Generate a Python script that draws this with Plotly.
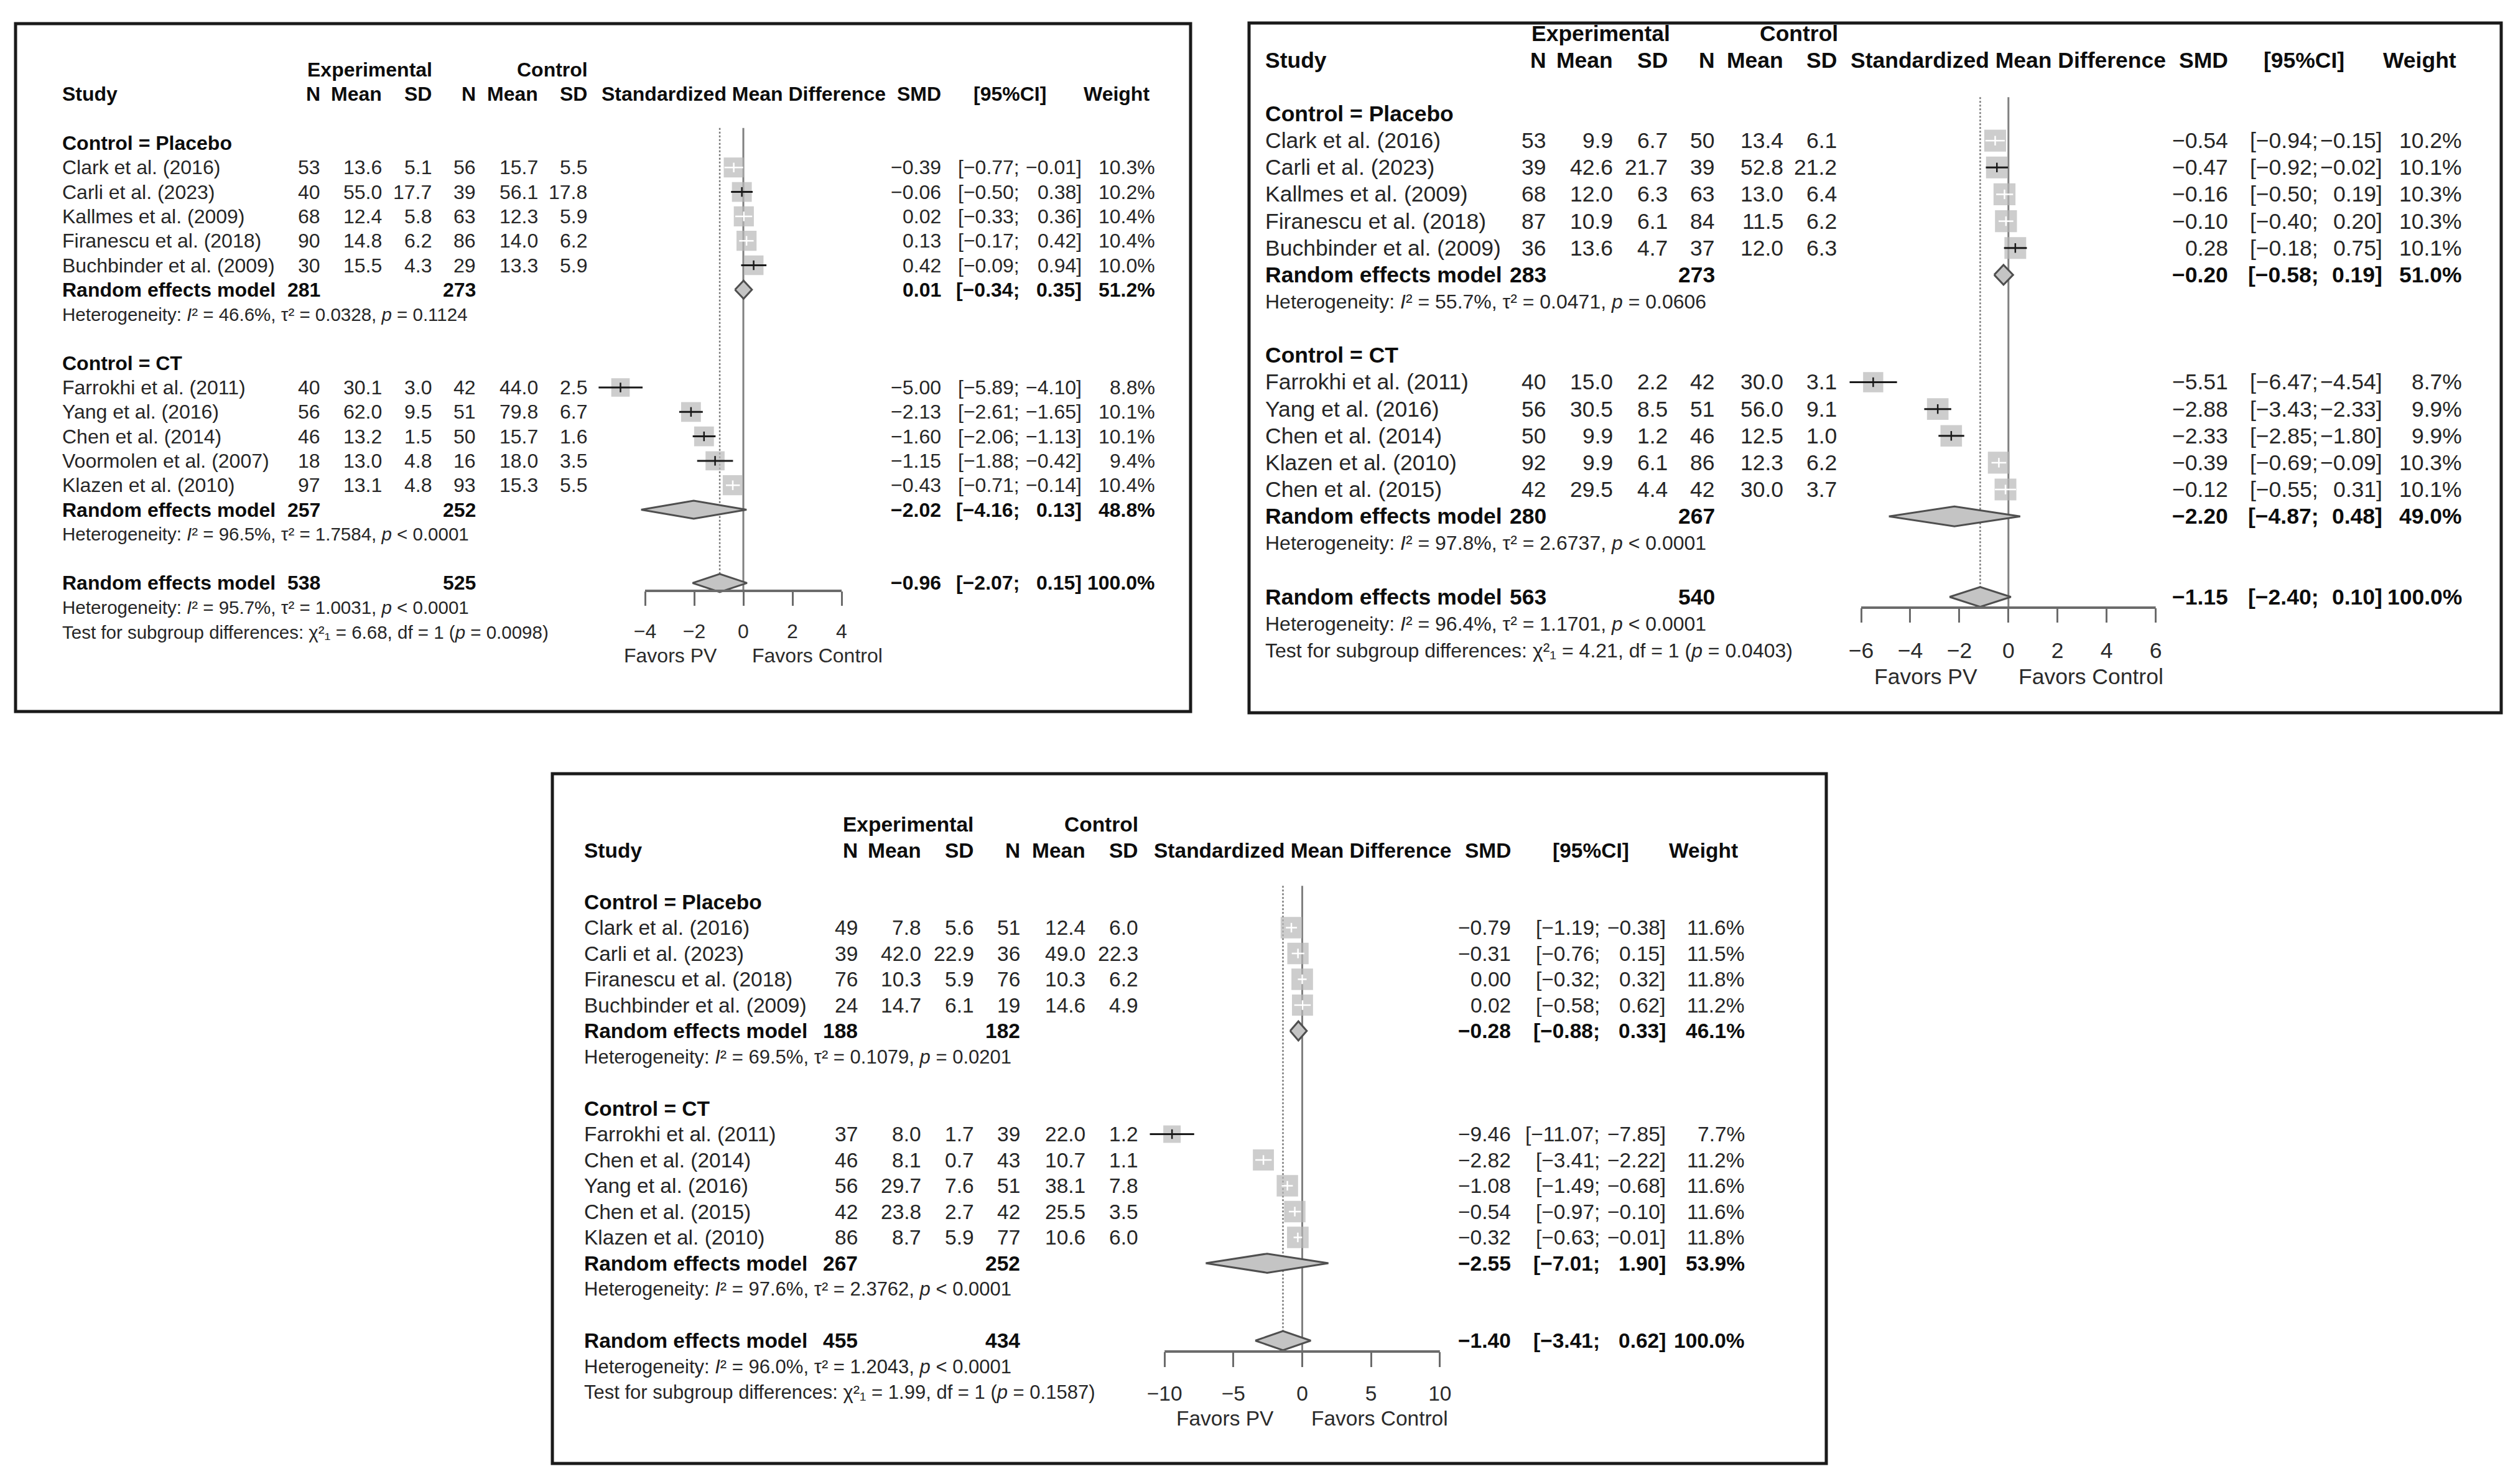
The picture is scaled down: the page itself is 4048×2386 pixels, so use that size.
import math
import plotly.graph_objects as go

# ======================= DATA =======================
# ---- Panel 1 (top left) ----
P1_STUDY = ["Clark et al. (2016)", "Carli et al. (2023)", "Kallmes et al. (2009)",
            "Firanescu et al. (2018)", "Buchbinder et al. (2009)",
            "Farrokhi et al. (2011)", "Yang et al. (2016)", "Chen et al. (2014)",
            "Voormolen et al. (2007)", "Klazen et al. (2010)"]
P1_GROUP = ["Placebo", "Placebo", "Placebo", "Placebo", "Placebo",
            "CT", "CT", "CT", "CT", "CT"]
P1_EXP_N = [53, 40, 68, 90, 30, 40, 56, 46, 18, 97]
P1_EXP_MEAN = [13.6, 55.0, 12.4, 14.8, 15.5, 30.1, 62.0, 13.2, 13.0, 13.1]
P1_EXP_SD = [5.1, 17.7, 5.8, 6.2, 4.3, 3.0, 9.5, 1.5, 4.8, 4.8]
P1_CTL_N = [56, 39, 63, 86, 29, 42, 51, 50, 16, 93]
P1_CTL_MEAN = [15.7, 56.1, 12.3, 14.0, 13.3, 44.0, 79.8, 15.7, 18.0, 15.3]
P1_CTL_SD = [5.5, 17.8, 5.9, 6.2, 5.9, 2.5, 6.7, 1.6, 3.5, 5.5]
P1_SMD = [-0.39, -0.06, 0.02, 0.13, 0.42, -5.00, -2.13, -1.60, -1.15, -0.43]
P1_LOWER = [-0.77, -0.50, -0.33, -0.17, -0.09, -5.89, -2.61, -2.06, -1.88, -0.71]
P1_UPPER = [-0.01, 0.38, 0.36, 0.42, 0.94, -4.10, -1.65, -1.13, -0.42, -0.14]
P1_WEIGHT = [10.3, 10.2, 10.4, 10.4, 10.0, 8.8, 10.1, 10.1, 9.4, 10.4]
P1_SUB_LABEL = ["Placebo", "CT"]
P1_SUB_EXP_N = [281, 257]
P1_SUB_CTL_N = [273, 252]
P1_SUB_SMD = [0.01, -2.02]
P1_SUB_LOWER = [-0.34, -4.16]
P1_SUB_UPPER = [0.35, 0.13]
P1_SUB_WEIGHT = [51.2, 48.8]
P1_SUB_I2 = [46.6, 96.5]
P1_SUB_TAU2 = [0.0328, 1.7584]
P1_SUB_P = ["= 0.1124", "< 0.0001"]
P1_ALL = [538, 525, -0.96, -2.07, 0.15, 100.0]   # N exp, N ctl, SMD, lower, upper, weight
P1_ALL_HET = [95.7, 1.0031, "< 0.0001"]
P1_TEST = [6.68, 1, 0.0098]
P1_TICKS = [-4, -2, 0, 2, 4]

# ---- Panel 2 (top right) ----
P2_STUDY = ["Clark et al. (2016)", "Carli et al. (2023)", "Kallmes et al. (2009)",
            "Firanescu et al. (2018)", "Buchbinder et al. (2009)",
            "Farrokhi et al. (2011)", "Yang et al. (2016)", "Chen et al. (2014)",
            "Klazen et al. (2010)", "Chen et al. (2015)"]
P2_GROUP = ["Placebo", "Placebo", "Placebo", "Placebo", "Placebo",
            "CT", "CT", "CT", "CT", "CT"]
P2_EXP_N = [53, 39, 68, 87, 36, 40, 56, 50, 92, 42]
P2_EXP_MEAN = [9.9, 42.6, 12.0, 10.9, 13.6, 15.0, 30.5, 9.9, 9.9, 29.5]
P2_EXP_SD = [6.7, 21.7, 6.3, 6.1, 4.7, 2.2, 8.5, 1.2, 6.1, 4.4]
P2_CTL_N = [50, 39, 63, 84, 37, 42, 51, 46, 86, 42]
P2_CTL_MEAN = [13.4, 52.8, 13.0, 11.5, 12.0, 30.0, 56.0, 12.5, 12.3, 30.0]
P2_CTL_SD = [6.1, 21.2, 6.4, 6.2, 6.3, 3.1, 9.1, 1.0, 6.2, 3.7]
P2_SMD = [-0.54, -0.47, -0.16, -0.10, 0.28, -5.51, -2.88, -2.33, -0.39, -0.12]
P2_LOWER = [-0.94, -0.92, -0.50, -0.40, -0.18, -6.47, -3.43, -2.85, -0.69, -0.55]
P2_UPPER = [-0.15, -0.02, 0.19, 0.20, 0.75, -4.54, -2.33, -1.80, -0.09, 0.31]
P2_WEIGHT = [10.2, 10.1, 10.3, 10.3, 10.1, 8.7, 9.9, 9.9, 10.3, 10.1]
P2_SUB_LABEL = ["Placebo", "CT"]
P2_SUB_EXP_N = [283, 280]
P2_SUB_CTL_N = [273, 267]
P2_SUB_SMD = [-0.20, -2.20]
P2_SUB_LOWER = [-0.58, -4.87]
P2_SUB_UPPER = [0.19, 0.48]
P2_SUB_WEIGHT = [51.0, 49.0]
P2_SUB_I2 = [55.7, 97.8]
P2_SUB_TAU2 = [0.0471, 2.6737]
P2_SUB_P = ["= 0.0606", "< 0.0001"]
P2_ALL = [563, 540, -1.15, -2.40, 0.10, 100.0]
P2_ALL_HET = [96.4, 1.1701, "< 0.0001"]
P2_TEST = [4.21, 1, 0.0403]
P2_TICKS = [-6, -4, -2, 0, 2, 4, 6]

# ---- Panel 3 (bottom) ----
P3_STUDY = ["Clark et al. (2016)", "Carli et al. (2023)", "Firanescu et al. (2018)",
            "Buchbinder et al. (2009)",
            "Farrokhi et al. (2011)", "Chen et al. (2014)", "Yang et al. (2016)",
            "Chen et al. (2015)", "Klazen et al. (2010)"]
P3_GROUP = ["Placebo", "Placebo", "Placebo", "Placebo",
            "CT", "CT", "CT", "CT", "CT"]
P3_EXP_N = [49, 39, 76, 24, 37, 46, 56, 42, 86]
P3_EXP_MEAN = [7.8, 42.0, 10.3, 14.7, 8.0, 8.1, 29.7, 23.8, 8.7]
P3_EXP_SD = [5.6, 22.9, 5.9, 6.1, 1.7, 0.7, 7.6, 2.7, 5.9]
P3_CTL_N = [51, 36, 76, 19, 39, 43, 51, 42, 77]
P3_CTL_MEAN = [12.4, 49.0, 10.3, 14.6, 22.0, 10.7, 38.1, 25.5, 10.6]
P3_CTL_SD = [6.0, 22.3, 6.2, 4.9, 1.2, 1.1, 7.8, 3.5, 6.0]
P3_SMD = [-0.79, -0.31, 0.00, 0.02, -9.46, -2.82, -1.08, -0.54, -0.32]
P3_LOWER = [-1.19, -0.76, -0.32, -0.58, -11.07, -3.41, -1.49, -0.97, -0.63]
P3_UPPER = [-0.38, 0.15, 0.32, 0.62, -7.85, -2.22, -0.68, -0.10, -0.01]
P3_WEIGHT = [11.6, 11.5, 11.8, 11.2, 7.7, 11.2, 11.6, 11.6, 11.8]
P3_SUB_LABEL = ["Placebo", "CT"]
P3_SUB_EXP_N = [188, 267]
P3_SUB_CTL_N = [182, 252]
P3_SUB_SMD = [-0.28, -2.55]
P3_SUB_LOWER = [-0.88, -7.01]
P3_SUB_UPPER = [0.33, 1.90]
P3_SUB_WEIGHT = [46.1, 53.9]
P3_SUB_I2 = [69.5, 97.6]
P3_SUB_TAU2 = [0.1079, 2.3762]
P3_SUB_P = ["= 0.0201", "< 0.0001"]
P3_ALL = [455, 434, -1.40, -3.41, 0.62, 100.0]
P3_ALL_HET = [96.0, 1.2043, "< 0.0001"]
P3_TEST = [1.99, 1, 0.1587]
P3_TICKS = [-10, -5, 0, 5, 10]


def panel(study, group, en, em, es, cn, cm, cs, smd, lo, hi, w,
          slab, sne, snc, ssmd, slo, shi, sw, si2, stau, sp, alls, allhet, test, ticks):
    return dict(study=study, group=group, en=en, em=em, es=es, cn=cn, cm=cm, cs=cs,
                smd=smd, lo=lo, hi=hi, w=w, slab=slab, sne=sne, snc=snc, ssmd=ssmd,
                slo=slo, shi=shi, sw=sw, si2=si2, stau=stau, sp=sp, alls=alls,
                allhet=allhet, test=test, ticks=ticks)


PANEL_DATA = [
    panel(P1_STUDY, P1_GROUP, P1_EXP_N, P1_EXP_MEAN, P1_EXP_SD, P1_CTL_N, P1_CTL_MEAN, P1_CTL_SD,
          P1_SMD, P1_LOWER, P1_UPPER, P1_WEIGHT, P1_SUB_LABEL, P1_SUB_EXP_N, P1_SUB_CTL_N,
          P1_SUB_SMD, P1_SUB_LOWER, P1_SUB_UPPER, P1_SUB_WEIGHT, P1_SUB_I2, P1_SUB_TAU2, P1_SUB_P,
          P1_ALL, P1_ALL_HET, P1_TEST, P1_TICKS),
    panel(P2_STUDY, P2_GROUP, P2_EXP_N, P2_EXP_MEAN, P2_EXP_SD, P2_CTL_N, P2_CTL_MEAN, P2_CTL_SD,
          P2_SMD, P2_LOWER, P2_UPPER, P2_WEIGHT, P2_SUB_LABEL, P2_SUB_EXP_N, P2_SUB_CTL_N,
          P2_SUB_SMD, P2_SUB_LOWER, P2_SUB_UPPER, P2_SUB_WEIGHT, P2_SUB_I2, P2_SUB_TAU2, P2_SUB_P,
          P2_ALL, P2_ALL_HET, P2_TEST, P2_TICKS),
    panel(P3_STUDY, P3_GROUP, P3_EXP_N, P3_EXP_MEAN, P3_EXP_SD, P3_CTL_N, P3_CTL_MEAN, P3_CTL_SD,
          P3_SMD, P3_LOWER, P3_UPPER, P3_WEIGHT, P3_SUB_LABEL, P3_SUB_EXP_N, P3_SUB_CTL_N,
          P3_SUB_SMD, P3_SUB_LOWER, P3_SUB_UPPER, P3_SUB_WEIGHT, P3_SUB_I2, P3_SUB_TAU2, P3_SUB_P,
          P3_ALL, P3_ALL_HET, P3_TEST, P3_TICKS),
]

# ======================= LAYOUT / STYLE =======================
W, H = 4048, 2386
FONT = "Liberation Sans, Arial, Helvetica, sans-serif"
TXT = "#262626"
BLK = "#0d0d0d"
AXC = "#6b6b6b"
SQ_COLOR = "#B8B8B8"
DIA_FILL = "#C4C4C4"
DIA_LINE = "#4f4f4f"

LAYOUTS = [
    dict(box=(25, 38, 1914, 1144), row0=230.0, rowh=39.3, fs=32, fs_het=29.5,
         study_x=98, cols=(517, 616, 696, 767, 867, 946), exp_c=594, ctl_c=888,
         smd_x=1515, semi_x=1641, brk_x=1741, w_x=1859, ci_hdr=1623, w_hdr=1795,
         zero_px=1195.0, ppu=39.5, dom=(945, 1445), axis_px=950, fav_px=1054,
         fav_pv=1078, fav_ctl=1314, sq=10.0, ticklen=23),
    dict(box=(2008, 37, 4021, 1146), row0=183.0, rowh=43.15, fs=35.5, fs_het=32,
         study_x=2032, cols=(2488, 2595, 2683, 2759, 2869, 2955), exp_c=2573, ctl_c=2892,
         smd_x=3584, semi_x=3729, brk_x=3832, w_x=3960, ci_hdr=3704, w_hdr=3890,
         zero_px=3228.8, ppu=39.46, dom=(2960, 3500), axis_px=977, fav_px=1088,
         fav_pv=3096, fav_ctl=3361, sq=11.0, ticklen=23),
    dict(box=(888, 1244, 2936, 2353), row0=1450.0, rowh=41.5, fs=33.5, fs_het=31,
         study_x=937, cols=(1381, 1483, 1568, 1642, 1747, 1832), exp_c=1460, ctl_c=1770,
         smd_x=2431, semi_x=2574, brk_x=2680, w_x=2807, ci_hdr=2557, w_hdr=2738,
         zero_px=2093.5, ppu=22.13, dom=(1840, 2340), axis_px=2173, fav_px=2280,
         fav_pv=1969, fav_ctl=2218, sq=10.1, ticklen=24),
]


def mfmt(v, d):
    return f"{v:.{d}f}".replace("-", "\u2212")


def X(px):
    return px / W


def Y(py):
    return 1 - py / H


fig = go.Figure()
annotations = []
shapes = []
axes = {}

for pi, (D, L) in enumerate(zip(PANEL_DATA, LAYOUTS), start=1):
    sfx = "" if pi == 1 else str(pi)
    xa, ya = "x" + sfx, "y" + sfx
    bx0, by0, bx1, by1 = L["box"]
    row0, rowh = L["row0"], L["rowh"]
    zero, ppu = L["zero_px"], L["ppu"]
    d0, d1 = L["dom"]
    fs, fsh = L["fs"], L["fs_het"]

    def row_of(py):
        return (py - row0) / rowh

    axes["xaxis" + sfx] = dict(
        domain=[X(d0), X(d1)], range=[(d0 - zero) / ppu, (d1 - zero) / ppu],
        anchor="free", position=Y(L["axis_px"]),
        tickmode="array", tickvals=D["ticks"], ticktext=[mfmt(t, 0) for t in D["ticks"]],
        ticks="outside", ticklen=L["ticklen"], tickwidth=3, tickcolor=AXC,
        showline=False, showgrid=False, zeroline=False, ticklabelstandoff=14,
        tickfont=dict(family=FONT, size=fs, color="#2b2b2b"), fixedrange=True)
    axes["yaxis" + sfx] = dict(
        domain=[Y(by1), Y(by0)], range=[row_of(by1), row_of(by0)], anchor=xa,
        visible=False, fixedrange=True)

    def txt(px, row, s, anchor="left", size=None, color=TXT):
        annotations.append(dict(
            x=X(px), xref="paper", y=row, yref=ya, text=s, xanchor=anchor,
            yanchor="middle", showarrow=False,
            font=dict(family=FONT, size=size or fs, color=color)))

    # ---- headers ----
    txt(L["exp_c"], -3, "<b>Experimental</b>", "center", color=BLK)
    txt(L["ctl_c"], -3, "<b>Control</b>", "center", color=BLK)
    txt(L["study_x"], -2, "<b>Study</b>", "left", color=BLK)
    for cx, lab in zip(L["cols"], ["N", "Mean", "SD", "N", "Mean", "SD"]):
        txt(cx, -2, f"<b>{lab}</b>", "right", color=BLK)
    txt(zero, -2, "<b>Standardized Mean Difference</b>", "center", color=BLK)
    txt(L["smd_x"], -2, "<b>SMD</b>", "right", color=BLK)
    txt(L["ci_hdr"], -2, "<b>[95%CI]</b>", "center", color=BLK)
    txt(L["w_hdr"], -2, "<b>Weight</b>", "center", color=BLK)

    def result_cols(row, est, lo, hi, wt, bold):
        b0, b1 = ("<b>", "</b>") if bold else ("", "")
        col = BLK if bold else TXT
        txt(L["smd_x"], row, b0 + mfmt(est, 2) + b1, "right", color=col)
        txt(L["semi_x"], row, b0 + "[" + mfmt(lo, 2) + ";" + b1, "right", color=col)
        txt(L["brk_x"], row, b0 + mfmt(hi, 2) + "]" + b1, "right", color=col)
        txt(L["w_x"], row, b0 + mfmt(wt, 1) + "%" + b1, "right", color=col)

    def het_text(i2, tau2, p):
        return (f"Heterogeneity: <i>I</i>\u00b2 = {i2:.1f}%, "
                f"\u03c4\u00b2 = {tau2:.4f}, <i>p</i> {p}")

    # ---- rows ----
    sq_x, sq_y, sq_s = [], [], []
    ci = {True: ([], []), False: ([], [])}      # inside square -> white
    tk = {True: ([], []), False: ([], [])}
    diamonds = []
    r = 0
    for gi, g in enumerate(D["slab"]):
        txt(L["study_x"], r, f"<b>Control = {g}</b>", "left", color=BLK)
        r += 1
        for k in range(len(D["study"])):
            if D["group"][k] != g:
                continue
            txt(L["study_x"], r, D["study"][k], "left")
            vals = [str(D["en"][k]), f"{D['em'][k]:.1f}", f"{D['es'][k]:.1f}",
                    str(D["cn"][k]), f"{D['cm'][k]:.1f}", f"{D['cs'][k]:.1f}"]
            for cx, v in zip(L["cols"], vals):
                txt(cx, r, v, "right")
            result_cols(r, D["smd"][k], D["lo"][k], D["hi"][k], D["w"][k], False)
            size = L["sq"] * math.sqrt(D["w"][k])
            sq_x.append(D["smd"][k]); sq_y.append(r); sq_s.append(size)
            inside = (D["hi"][k] - D["lo"][k]) * ppu < size
            ci[inside][0].extend([D["lo"][k], D["hi"][k], None])
            ci[inside][1].extend([r, r, None])
            tk[inside][0].append(D["smd"][k]); tk[inside][1].append(r)
            r += 1
        txt(L["study_x"], r, "<b>Random effects model</b>", "left", color=BLK)
        txt(L["cols"][0], r, f"<b>{D['sne'][gi]}</b>", "right", color=BLK)
        txt(L["cols"][3], r, f"<b>{D['snc'][gi]}</b>", "right", color=BLK)
        result_cols(r, D["ssmd"][gi], D["slo"][gi], D["shi"][gi], D["sw"][gi], True)
        diamonds.append((r, D["ssmd"][gi], D["slo"][gi], D["shi"][gi]))
        r += 1
        txt(L["study_x"], r, het_text(D["si2"][gi], D["stau"][gi], D["sp"][gi]), "left", size=fsh)
        r += 2
    ne, nc, est, lo, hi, wt = D["alls"]
    overall_row = r
    txt(L["study_x"], r, "<b>Random effects model</b>", "left", color=BLK)
    txt(L["cols"][0], r, f"<b>{ne}</b>", "right", color=BLK)
    txt(L["cols"][3], r, f"<b>{nc}</b>", "right", color=BLK)
    result_cols(r, est, lo, hi, wt, True)
    diamonds.append((r, est, lo, hi))
    r += 1
    txt(L["study_x"], r, het_text(*D["allhet"]), "left", size=fsh)
    r += 1
    chi2, df, pv = D["test"]
    txt(L["study_x"], r,
        f"Test for subgroup differences: \u03c7\u00b2\u2081 = {chi2:.2f}, "
        f"df = {df} (<i>p</i> = {pv:.4f})", "left", size=fsh)

    # favours labels
    for cx, lab in [(L["fav_pv"], "Favors PV"), (L["fav_ctl"], "Favors Control")]:
        annotations.append(dict(x=X(cx), xref="paper", y=Y(L["fav_px"]), yref="paper",
                                text=lab, xanchor="center", yanchor="middle", showarrow=False,
                                font=dict(family=FONT, size=fs, color="#2b2b2b")))

    # ---- reference lines ----
    axis_row = row_of(L["axis_px"])
    shapes.append(dict(type="line", xref=xa, yref=ya, x0=0, x1=0, y0=-0.62, y1=axis_row,
                       line=dict(color="#808080", width=3), layer="below"))
    shapes.append(dict(type="line", xref=xa, yref=ya, x0=est, x1=est, y0=-0.62, y1=overall_row,
                       line=dict(color="#7a7a7a", width=2.5, dash="dot"), layer="below"))
    shapes.append(dict(type="line", xref=xa, yref="paper", x0=min(D["ticks"]), x1=max(D["ticks"]),
                       y0=Y(L["axis_px"]), y1=Y(L["axis_px"]), line=dict(color=AXC, width=4)))
    # panel border
    shapes.append(dict(type="rect", xref="paper", yref="paper", x0=X(bx0), x1=X(bx1),
                       y0=Y(by1), y1=Y(by0), line=dict(color="#1a1a1a", width=5)))

    # ---- traces ----
    fig.add_trace(go.Scatter(x=sq_x, y=sq_y, xaxis=xa, yaxis=ya, mode="markers",
                             marker=dict(symbol="square", size=sq_s, color=SQ_COLOR,
                                         line=dict(width=0)),
                             hoverinfo="skip", showlegend=False, cliponaxis=False))
    for inside, col, wd in [(False, "#1a1a1a", 3), (True, "#ffffff", 2.5)]:
        fig.add_trace(go.Scatter(x=ci[inside][0], y=ci[inside][1], xaxis=xa, yaxis=ya,
                                 mode="lines", line=dict(color=col, width=wd),
                                 hoverinfo="skip", showlegend=False))
        fig.add_trace(go.Scatter(x=tk[inside][0], y=tk[inside][1], xaxis=xa, yaxis=ya,
                                 mode="markers",
                                 marker=dict(symbol="line-ns", size=11,
                                             line=dict(color=col, width=2.5)),
                                 hoverinfo="skip", showlegend=False))
    hh = 0.37
    for (rr, e, l, h) in diamonds:
        fig.add_trace(go.Scatter(x=[l, e, h, e, l], y=[rr, rr - hh, rr, rr + hh, rr],
                                 xaxis=xa, yaxis=ya, mode="lines", fill="toself",
                                 fillcolor=DIA_FILL, line=dict(color=DIA_LINE, width=3),
                                 hoverinfo="skip", showlegend=False))

fig.update_layout(
    template="none", width=W, height=H,
    margin=dict(l=0, r=0, t=0, b=0, pad=0),
    paper_bgcolor="white", plot_bgcolor="white",
    annotations=annotations, shapes=shapes, showlegend=False,
    font=dict(family=FONT), **axes)

fig.write_html("out.html", config={"displayModeBar": False, "staticPlot": True},
               post_script="document.body.style.margin='0';document.body.style.overflow='hidden';")
